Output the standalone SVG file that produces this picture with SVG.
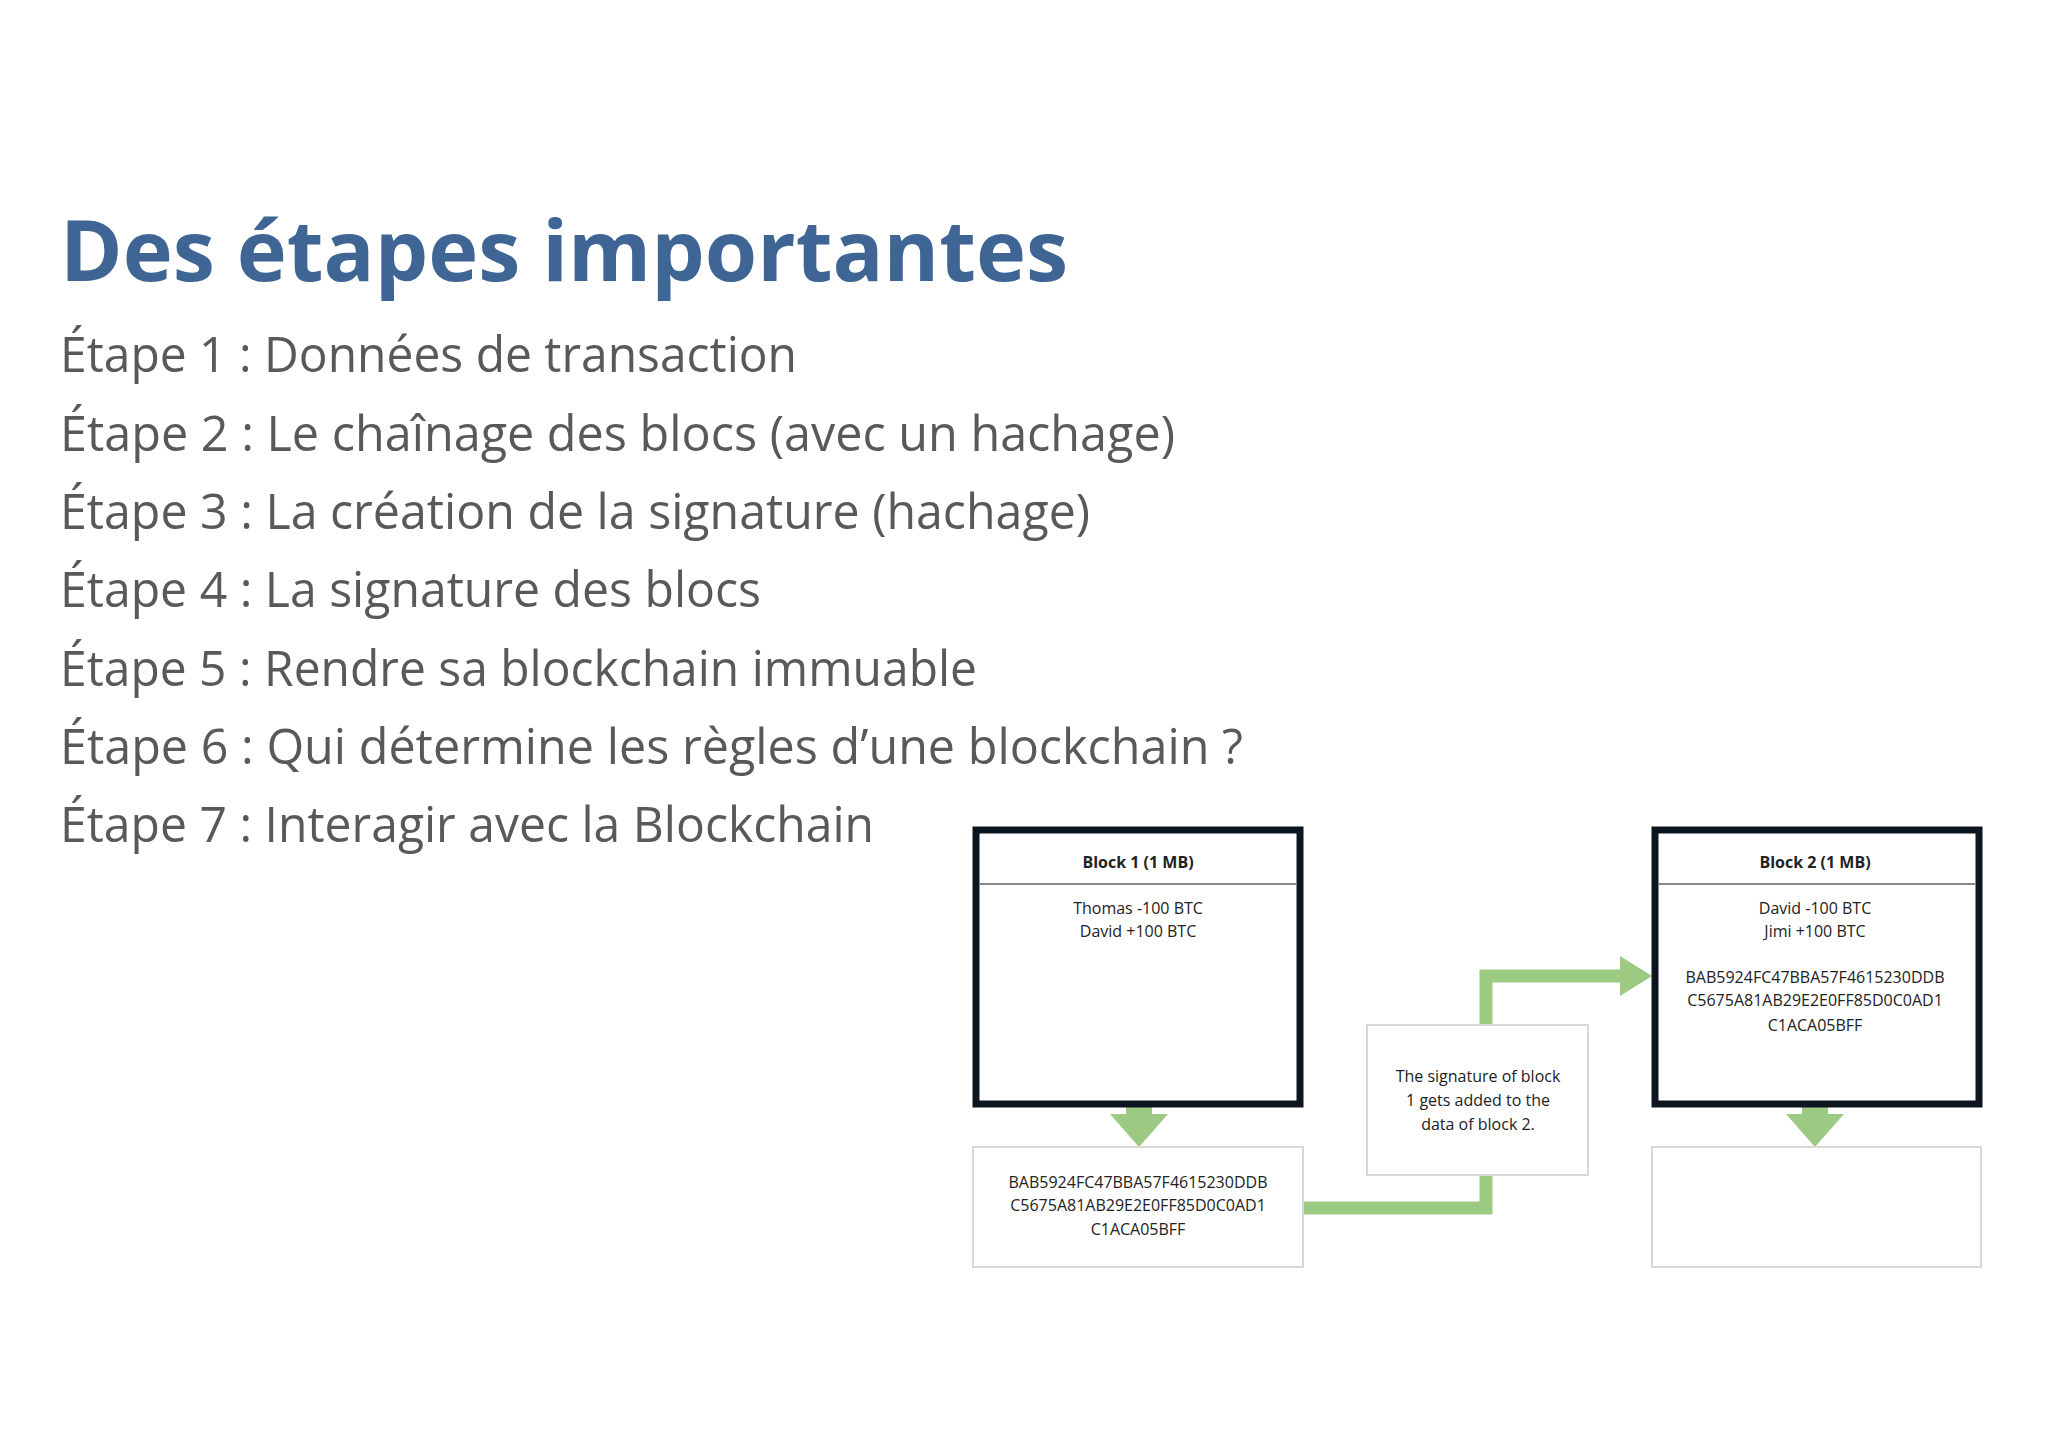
<svg xmlns="http://www.w3.org/2000/svg" width="2048" height="1448" viewBox="0 0 2048 1448">
<style>
.t{font-family:"Open Sans","Noto Sans",sans-serif;font-size:50px;fill:#595959}
.s{font-family:"Open Sans","Liberation Sans",sans-serif;font-size:16px;fill:#222;text-anchor:middle}
.b{font-weight:bold}
.blk{fill:#fff;stroke:#0d1620;stroke-width:7}
.box{fill:#fff;stroke:#d8d8d8;stroke-width:2}
.g{fill:none;stroke:#9cca82;stroke-width:13}
.gh{fill:#9cca82}
</style>
<rect width="2048" height="1448" fill="#fff"/>
<text x="60" y="281" font-family="'Open Sans','Noto Sans',sans-serif" font-weight="bold" font-size="84" fill="#3e6594" textLength="1008" lengthAdjust="spacingAndGlyphs">Des étapes importantes</text>
<text class="t" x="60" y="372" textLength="737" lengthAdjust="spacingAndGlyphs">Étape 1 : Données de transaction</text>
<text class="t" x="60" y="451" textLength="1115" lengthAdjust="spacingAndGlyphs">Étape 2 : Le chaînage des blocs (avec un hachage)</text>
<text class="t" x="60" y="529" textLength="1030" lengthAdjust="spacingAndGlyphs">Étape 3 : La création de la signature (hachage)</text>
<text class="t" x="60" y="607" textLength="701" lengthAdjust="spacingAndGlyphs">Étape 4 : La signature des blocs</text>
<text class="t" x="60" y="686" textLength="917" lengthAdjust="spacingAndGlyphs">Étape 5 : Rendre sa blockchain immuable</text>
<text class="t" x="60" y="764" textLength="1183" lengthAdjust="spacingAndGlyphs">Étape 6 : Qui détermine les règles d’une blockchain ?</text>
<text class="t" x="60" y="842" textLength="814" lengthAdjust="spacingAndGlyphs">Étape 7 : Interagir avec la Blockchain</text>
<g id="connectors">
<polyline class="g" points="1303,1208 1486,1208 1486,1175"/>
<polyline class="g" points="1486,1025 1486,976 1625,976"/>
<polygon class="gh" points="1620,956 1652,976 1620,996"/>
<rect class="gh" x="1126" y="1091" width="26" height="25"/>
<polygon class="gh" points="1110,1114 1168,1114 1139,1147"/>
<rect class="gh" x="1802" y="1091" width="26" height="25"/>
<polygon class="gh" points="1786,1114 1844,1114 1815,1147"/>
</g>
<g id="block1">
<rect class="blk" x="976" y="830" width="324" height="274"/>
<line x1="980" y1="884" x2="1296" y2="884" stroke="#888" stroke-width="2"/>
<text class="s b" x="1138" y="868">Block 1 (1 MB)</text>
<text class="s" x="1138" y="914">Thomas -100 BTC</text>
<text class="s" x="1138" y="937">David +100 BTC</text>
</g>
<g id="hash1">
<rect class="box" x="973" y="1147" width="330" height="120"/>
<text class="s" x="1138" y="1188">BAB5924FC47BBA57F4615230DDB</text>
<text class="s" x="1138" y="1211">C5675A81AB29E2E0FF85D0C0AD1</text>
<text class="s" x="1138" y="1235">C1ACA05BFF</text>
</g>
<g id="note">
<rect class="box" x="1367" y="1025" width="221" height="150"/>
<text class="s" x="1478" y="1082">The signature of block</text>
<text class="s" x="1478" y="1106">1 gets added to the</text>
<text class="s" x="1478" y="1130">data of block 2.</text>
</g>
<g id="block2">
<rect class="blk" x="1655" y="830" width="324" height="274"/>
<line x1="1659" y1="884" x2="1975" y2="884" stroke="#888" stroke-width="2"/>
<text class="s b" x="1815" y="868">Block 2 (1 MB)</text>
<text class="s" x="1815" y="914">David -100 BTC</text>
<text class="s" x="1815" y="937">Jimi +100 BTC</text>
<text class="s" x="1815" y="983">BAB5924FC47BBA57F4615230DDB</text>
<text class="s" x="1815" y="1006">C5675A81AB29E2E0FF85D0C0AD1</text>
<text class="s" x="1815" y="1031">C1ACA05BFF</text>
</g>
<g id="hash2">
<rect class="box" x="1652" y="1147" width="329" height="120"/>
</g>
</svg>
